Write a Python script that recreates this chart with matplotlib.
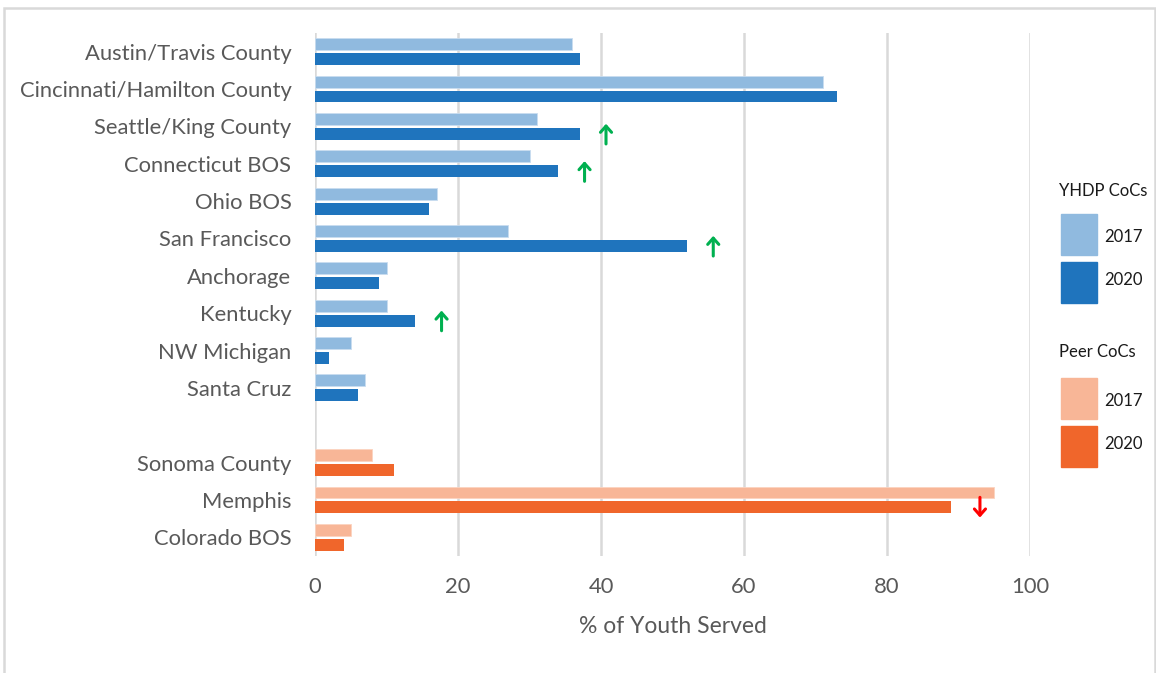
import matplotlib
matplotlib.use("Agg")
import matplotlib.pyplot as plt
import matplotlib.patches as patches

plt.rcParams['font.family'] = ['Lato', 'DejaVu Sans']

# data (% of youth served)
yhdp_names = ["Austin/Travis County", "Cincinnati/Hamilton County", "Seattle/King County",
              "Connecticut BOS", "Ohio BOS", "San Francisco", "Anchorage", "Kentucky",
              "NW Michigan", "Santa Cruz"]
yhdp_2017 = [36, 71, 31, 30, 17, 27, 10, 10, 5, 7]
yhdp_2020 = [37, 73, 37, 34, 16, 52, 9, 14, 2, 6]

peer_names = ["Sonoma County", "Memphis", "Colorado BOS"]
peer_2017 = [8, 95, 5]
peer_2020 = [11, 89, 4]

# arrows: (name, x position, direction)
arrows = [("Seattle/King County", 40.7, "up"), ("Connecticut BOS", 37.7, "up"),
          ("San Francisco", 55.7, "up"), ("Kentucky", 17.7, "up"),
          ("Memphis", 93.0, "down")]

xticks = [0, 20, 40, 60, 80, 100]

c_yl, c_yd = "#90BADF", "#1F74BD"
c_pl, c_pd = "#F8B697", "#F0662B"

W, H = 1156, 673
fig = plt.figure(figsize=(W / 100, H / 100), dpi=100)
ax = fig.add_axes([315 / W, 1 - 556 / H, 715 / W, 523 / H])

labels = yhdp_names + [""] + peer_names
pos = {n: i for i, n in enumerate(labels) if n}
yp = [pos[n] for n in yhdp_names]
pp = [pos[n] for n in peer_names]

h = 0.32
ax.barh([p - 0.2 for p in yp], yhdp_2017, height=h, color=c_yl, edgecolor="#C9DDF0", linewidth=0.6, zorder=3)
ax.barh([p + 0.2 for p in yp], yhdp_2020, height=h, color=c_yd, zorder=3)
ax.barh([p - 0.2 for p in pp], peer_2017, height=h, color=c_pl, edgecolor="#FBD3C0", linewidth=0.6, zorder=3)
ax.barh([p + 0.2 for p in pp], peer_2020, height=h, color=c_pd, zorder=3)

for name, x, d in arrows:
    y = pos[name] + 0.2
    col = "#00B050" if d == "up" else "#FF0000"
    if d == "up":
        start, end = (x, y + 0.27), (x, y - 0.27)
    else:
        start, end = (x, y - 0.27), (x, y + 0.27)
    ax.annotate("", xy=end, xytext=start,
                arrowprops=dict(arrowstyle="->,head_length=0.45,head_width=0.4",
                                color=col, lw=2.2, shrinkA=0, shrinkB=0), zorder=4)

ax.set_xlim(0, 100)
ax.set_ylim(len(labels) - 0.5, -0.5)
ax.set_yticks(range(len(labels)))
ax.set_yticklabels(labels)
ax.set_xticks(xticks)
ax.tick_params(axis="y", length=0, pad=17, labelsize=15.8, labelcolor="#595959")
ax.tick_params(axis="x", length=0, pad=15, labelsize=15.8, labelcolor="#595959")
for s in ax.spines.values():
    s.set_visible(False)
ax.grid(axis="x", color="#D9D9D9", linewidth=1.8, zorder=0)
ax.set_axisbelow(True)
ax.set_xlabel("% of Youth Served", fontsize=16.5, color="#595959", labelpad=14)

# legend drawn by hand on the figure
def fbox(x0, y0, w, hh, col):
    fig.patches.append(patches.Rectangle((x0 / W, 1 - (y0 + hh) / H), w / W, hh / H,
                                         transform=fig.transFigure, color=col))

def ftext(x0, y0, s):
    fig.text(x0 / W, 1 - y0 / H, s, fontsize=12, va="center", ha="left", color="#1a1a1a")

ftext(1059, 191, "YHDP CoCs")
fbox(1061, 214, 36, 41, c_yl)
fbox(1061, 262, 36, 41, c_yd)
ftext(1104, 237, "2017")
ftext(1104, 280, "2020")
ftext(1059, 352, "Peer CoCs")
fbox(1061, 378, 36, 41, c_pl)
fbox(1061, 426, 36, 41, c_pd)
ftext(1104, 401, "2017")
ftext(1104, 444, "2020")

# outer frame
fig.patches.append(patches.Rectangle((4 / W, -0.05), 1151 / W, 1.05 - 8 / H,
                                     transform=fig.transFigure, fill=False,
                                     edgecolor="#D9D9D9", linewidth=1.8))

fig.savefig("out.png", dpi=100)
